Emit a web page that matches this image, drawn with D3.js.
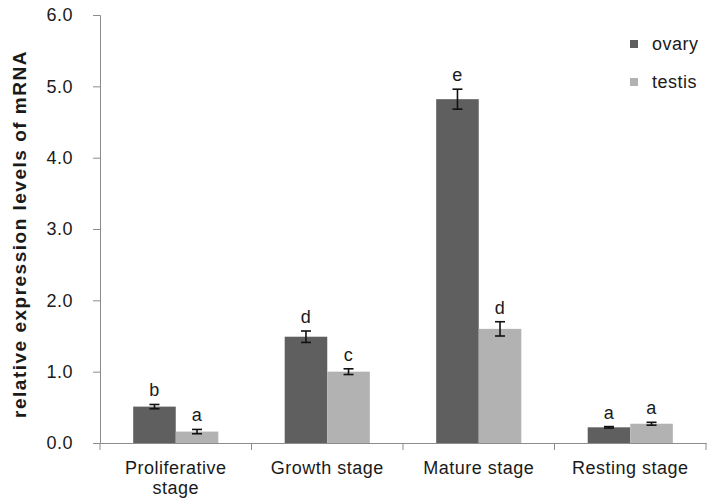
<!DOCTYPE html>
<html>
<head>
<meta charset="utf-8">
<script src="https://cdn.jsdelivr.net/npm/d3@7"></script>
<style>
  body { margin: 0; background: #fff; }
  text { font-family: "Liberation Sans", Arial, sans-serif; fill: #1a1a1a; letter-spacing: 0.5px; }
</style>
</head>
<body>
<svg id="chart" width="712" height="504"></svg>
<script>
// data
var stages = ["Proliferative stage", "Growth stage", "Mature stage", "Resting stage"];
var series = ["ovary", "testis"];
var ovaryMean = [0.51, 1.49, 4.82, 0.22];
var ovaryErr = [0.03, 0.08, 0.14, 0.01];
var testisMean = [0.16, 1.00, 1.60, 0.27];
var testisErr = [0.03, 0.04, 0.10, 0.02];
var ovaryLetters = ["b", "d", "e", "a"];
var testisLetters = ["a", "c", "d", "a"];
var yTicks = [0, 1, 2, 3, 4, 5, 6];

var colors = { ovary: "#5f5f5f", testis: "#b2b2b2" };

var rows = [];
stages.forEach(function(s, i) {
  rows.push({ stage: s, series: "ovary", v: ovaryMean[i], e: ovaryErr[i], lab: ovaryLetters[i] });
  rows.push({ stage: s, series: "testis", v: testisMean[i], e: testisErr[i], lab: testisLetters[i] });
});

var margin = { left: 100, right: 6, top: 15, bottom: 61 };
var W = 712, H = 504;
var svg = d3.select("#chart");

var x = d3.scaleBand().domain(stages).range([margin.left, W - margin.right]).paddingInner(0).paddingOuter(0);
var x1 = d3.scaleBand().domain(series).range([0, x.bandwidth()]).paddingInner(0).paddingOuter(0.78);
var y = d3.scaleLinear().domain([0, 6]).range([H - margin.bottom, margin.top]);

// bars
svg.append("g").selectAll("rect").data(rows).enter().append("rect")
  .attr("x", function(d) { return x(d.stage) + x1(d.series); })
  .attr("y", function(d) { return y(d.v); })
  .attr("width", x1.bandwidth())
  .attr("height", function(d) { return y(0) - y(d.v); })
  .attr("fill", function(d) { return colors[d.series]; });

// error bars
var eb = svg.append("g").attr("stroke", "#111").attr("stroke-width", 1.6);
rows.forEach(function(d) {
  var cx = x(d.stage) + x1(d.series) + x1.bandwidth() / 2;
  eb.append("line").attr("x1", cx).attr("x2", cx).attr("y1", y(d.v + d.e)).attr("y2", y(d.v - d.e));
  eb.append("line").attr("x1", cx - 5).attr("x2", cx + 5).attr("y1", y(d.v + d.e)).attr("y2", y(d.v + d.e));
  eb.append("line").attr("x1", cx - 5).attr("x2", cx + 5).attr("y1", y(d.v - d.e)).attr("y2", y(d.v - d.e));
});

// significance letters
svg.append("g").selectAll("text").data(rows).enter().append("text")
  .attr("x", function(d) { return x(d.stage) + x1(d.series) + x1.bandwidth() / 2; })
  .attr("y", function(d) { return y(d.v + d.e) - 8; })
  .attr("text-anchor", "middle")
  .style("font-size", "18px")
  .text(function(d) { return d.lab; });

// y axis
var yAxis = svg.append("g")
  .attr("transform", "translate(" + margin.left + ",0)")
  .call(d3.axisLeft(y).tickValues(yTicks).tickFormat(d3.format(".1f")).tickSize(7).tickPadding(20));
yAxis.select(".domain").attr("stroke", "#8c8c8c");
yAxis.selectAll(".tick line").attr("stroke", "#8c8c8c");
yAxis.selectAll(".tick text").style("font-size", "18px").attr("fill", "#1a1a1a")
  .style("font-family", "'Liberation Sans', Arial, sans-serif");

// x axis
var xAxis = svg.append("g")
  .attr("transform", "translate(0," + y(0) + ")")
  .call(d3.axisBottom(x).tickSize(0).tickFormat(""));
xAxis.select(".domain").attr("stroke", "#8c8c8c");
var bounds = stages.map(function(s) { return x(s); }).concat([x.range()[1]]);
xAxis.selectAll(".bound").data(bounds).enter().append("line")
  .attr("x1", function(d) { return d; }).attr("x2", function(d) { return d; })
  .attr("y1", 0).attr("y2", 7).attr("stroke", "#8c8c8c");

// x labels (Proliferative stage wraps)
var xlab = svg.append("g");
stages.forEach(function(s) {
  var cx = x(s) + x.bandwidth() / 2;
  var lines = s === "Proliferative stage" ? ["Proliferative", "stage"] : [s];
  lines.forEach(function(t, k) {
    xlab.append("text").attr("x", cx).attr("y", y(0) + 31 + k * 20)
      .attr("text-anchor", "middle").style("font-size", "18px").text(t);
  });
});

// y title
svg.append("text")
  .attr("transform", "translate(26,234) rotate(-90)")
  .attr("text-anchor", "middle")
  .style("font-size", "19px").style("font-weight", "bold").style("letter-spacing", "1.5px")
  .text("relative expression levels of mRNA");

// legend
var lg = svg.append("g").attr("transform", "translate(630,44)");
series.forEach(function(s, i) {
  var g = lg.append("g").attr("transform", "translate(0," + (i * 38) + ")");
  g.append("rect").attr("x", 0).attr("y", -4).attr("width", 8).attr("height", 8).attr("fill", colors[s]);
  g.append("text").attr("x", 22).attr("y", 6).style("font-size", "18px").text(s);
});
</script>
</body>
</html>
